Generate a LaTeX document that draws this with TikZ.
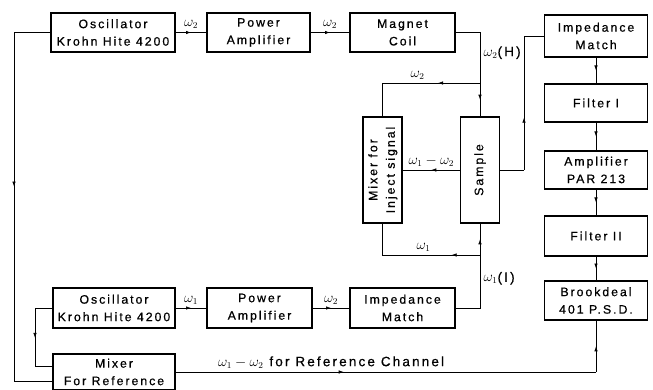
\documentclass[tikz,border=0pt]{standalone}
\usepackage{fontspec}
\setmainfont{Liberation Sans}[LetterSpace=16, FakeBold=0.6]
\usetikzlibrary{arrows.meta,decorations.markings}

\tikzset{
  block/.style={draw, line width=1.1pt, inner sep=1pt, align=center,
    font=\fontsize{12.3}{17.5}\selectfont},
  lbl/.style={font=\fontsize{13.5}{14}\selectfont},
  arr/.style={postaction={decorate}, decoration={markings,
    mark=at position #1 with {\arrow{Latex[length=5pt,width=3.5pt]}}}},
  arr/.default=0.5,
}

\begin{document}
\begin{tikzpicture}[x=1pt, y=-1pt, line width=0.7pt]

    \useasboundingbox (0,0) rectangle (653,390);

    % Top row
    \node[block, minimum width=124pt, minimum height=39pt] (osctop) at (113,32.5) {Oscillator\\Krohn Hite 4200};
    \node[block, minimum width=103pt, minimum height=39pt] (powtop) at (258.5,32.5) {Power\\Amplifier};
    \node[block, minimum width=105pt, minimum height=39pt] (coil) at (402.5,32.5) {Magnet\\Coil};

    % Detection chain
    \node[block, minimum width=103pt, minimum height=42pt] (impR) at (596,36) {Impedance\\Match};
    \node[block, minimum width=103pt, minimum height=38pt] (filA) at (596,103) {Filter I};
    \node[block, minimum width=103pt, minimum height=38pt] (ampl) at (596,170) {Amplifier\\PAR 213};
    \node[block, minimum width=103pt, minimum height=40pt] (filB) at (596,236) {Filter II};
    \node[block, minimum width=103pt, minimum height=39pt] (psd) at (596,300.5) {Brookdeal\\401 P.S.D.};

    % Mixer and sample
    \node[block, minimum width=39pt, minimum height=106pt] (mixinj) at (382.5,170)
        {\rotatebox{90}{\begin{tabular}{@{}c@{}}Mixer for\\Inject signal\end{tabular}}};
    \node[block, minimum width=39pt, minimum height=106pt] (sample) at (480,170)
        {\rotatebox{90}{Sample}};

    % Bottom row
    \node[block, minimum width=122pt, minimum height=40pt] (oscbot) at (114,308) {Oscillator\\Krohn Hite 4200};
    \node[block, minimum width=105pt, minimum height=40pt] (powbot) at (259.5,308) {Power\\Amplifier};
    \node[block, minimum width=105pt, minimum height=40pt] (impbot) at (402.5,308) {Impedance\\Match};
    \node[block, minimum width=122pt, minimum height=36pt] (mixref) at (114,372) {Mixer\\For Reference};

    % Branch points
    \coordinate (hsplit) at (480,83);
    \coordinate (isplit) at (480,255);
    \coordinate (sigout) at (524,170);
    \coordinate (refturn) at (psd.south |- mixref.east);
    \coordinate (lbus) at (14,381);
    \coordinate (lref) at (35,366);

    % omega_2 path
    \draw[arr] (osctop.east) -- node[lbl, above] {$\omega_2$} (powtop.west);
    \draw[arr] (powtop.east) -- node[lbl, above] {$\omega_2$} (coil.west);
    \draw (coil.east) -| node[lbl, pos=0.7, right] {$\omega_2$(H)} (hsplit);
    \draw[arr] (hsplit) -- (sample.north);
    \draw[arr=0.32] (hsplit) -| node[lbl, pos=0.32, above] {$\omega_2$} (mixinj.north);

    % Inject signal
    \draw[arr] (sample.west) -- node[lbl, above] {$\omega_1-\omega_2$} (mixinj.east);
    \draw[arr=0.22] (isplit) -| node[lbl, pos=0.29, above] {$\omega_1$} (mixinj.south);
    \draw (impbot.east) -| node[lbl, pos=0.78, right] {$\omega_1$(I)} (isplit);
    \draw[arr] (isplit) -- (sample.south);

    % Signal out
    \draw (sample.east) -- (sigout);
    \draw[arr=0.34] (sigout) |- (impR.west);
    \foreach \a/\b in {impR/filA, filA/ampl, ampl/filB, filB/psd}
        \draw[arr] (\a.south) -- (\b.north);

    % omega_1 path
    \draw[arr] (oscbot.east) -- node[lbl, above] {$\omega_1$} (powbot.west);
    \draw[arr] (powbot.east) -- node[lbl, above] {$\omega_2$} (impbot.west);

    % Reference
    \draw[arr=0.45] (osctop.west) -| (lbus) -- (lbus -| mixref.west);
    \draw[arr=0.51] (oscbot.west) -| (lref) -- (lref -| mixref.west);
    \draw[arr=0.4] (mixref.east) -- node[lbl, above, pos=0.37] {$\omega_1-\omega_2$ for Reference Channel} (refturn);
    \draw[arr] (refturn) -- (psd.south);

\end{tikzpicture}
\end{document}
